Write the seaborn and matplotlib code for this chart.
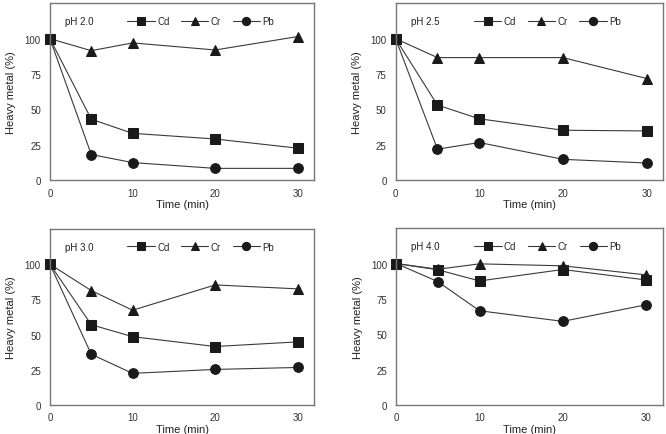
import matplotlib
matplotlib.use("Agg")
import matplotlib.pyplot as plt
import numpy as np
import pandas as pd
import seaborn as sns

times = [0, 5, 10, 20, 30]
metals = ["Cd", "Cr", "Pb"]
ph_labels = ["pH 2.0", "pH 2.5", "pH 3.0", "pH 4.0"]

cd_ph20 = [100, 43, 33, 29, 22.5]
cr_ph20 = [100, 91.5, 97, 92, 101.5]
pb_ph20 = [100, 18, 12.3, 8.2, 8.2]

cd_ph25 = [100, 53, 43.3, 35.2, 34.7]
cr_ph25 = [100, 86.6, 86.6, 86.6, 71.8]
pb_ph25 = [100, 21.8, 26.5, 14.6, 12]

cd_ph30 = [100, 57, 48.5, 41.5, 44.8]
cr_ph30 = [100, 81.3, 67.3, 85.3, 82.5]
pb_ph30 = [100, 36, 22.4, 25.2, 26.6]

cd_ph40 = [100, 95.6, 87.7, 95.8, 88.4]
cr_ph40 = [100, 96, 99.8, 98.4, 92]
pb_ph40 = [100, 87.2, 66.6, 59.1, 70.8]

series = {
    "pH 2.0": {"Cd": cd_ph20, "Cr": cr_ph20, "Pb": pb_ph20},
    "pH 2.5": {"Cd": cd_ph25, "Cr": cr_ph25, "Pb": pb_ph25},
    "pH 3.0": {"Cd": cd_ph30, "Cr": cr_ph30, "Pb": pb_ph30},
    "pH 4.0": {"Cd": cd_ph40, "Cr": cr_ph40, "Pb": pb_ph40},
}

sns.set_style("white")
plt.rcParams["font.family"] = ["Liberation Sans", "DejaVu Sans"]

markers = {"Cd": "s", "Cr": "^", "Pb": "o"}
msizes = {"Cd": 7, "Cr": 6.5, "Pb": 7}

# axes rectangles (figure fractions)
rects = [[0.075, 0.584, 0.397, 0.406],
         [0.594, 0.584, 0.402, 0.406],
         [0.075, 0.067, 0.397, 0.404],
         [0.595, 0.067, 0.400, 0.406]]

fig = plt.figure(figsize=(6.66, 4.35), dpi=100)
for i, ph in enumerate(ph_labels):
    ax = fig.add_axes(rects[i])
    rows = []
    for m in metals:
        for t, v in zip(times, series[ph][m]):
            rows.append({"time": t, "value": v, "metal": m})
    df = pd.DataFrame(rows)
    for m in metals:
        sns.lineplot(data=df[df.metal == m], x="time", y="value", ax=ax,
                     color="#3a3a3a", lw=0.8, marker=markers[m],
                     markersize=msizes[m], markerfacecolor="#1a1a1a",
                     markeredgecolor="#1a1a1a", label=m, clip_on=False)
    ax.set_xlim(0, 32)
    ax.set_ylim(0, 125)
    ax.set_xticks([0, 10, 20, 30])
    ax.set_yticks([0, 25, 50, 75, 100])
    ax.tick_params(labelsize=7, direction="out", length=2.5, width=0.6,
                   color="#888888", labelcolor="#333333")
    ax.tick_params(axis="x", pad=3)
    ax.tick_params(axis="y", pad=4)
    for sp in ax.spines.values():
        sp.set_color("#777777")
        sp.set_linewidth(1.0)
    ax.set_xlabel("Time (min)", fontsize=8, labelpad=1, color="#222222")
    ax.set_ylabel("Heavy metal (%)", fontsize=8, labelpad=6,
                  color="#222222")
    ax.text(0.057, 0.9, ph, transform=ax.transAxes, fontsize=7,
            va="center", ha="left", color="#222222")
    ax.legend(loc="center left", bbox_to_anchor=(0.293, 0.9), ncol=3,
              frameon=False, fontsize=7, handlelength=2.8,
              handletextpad=0.25, columnspacing=1.2, borderaxespad=0,
              borderpad=0, markerscale=0.85)

fig.savefig("out.png", dpi=100)
